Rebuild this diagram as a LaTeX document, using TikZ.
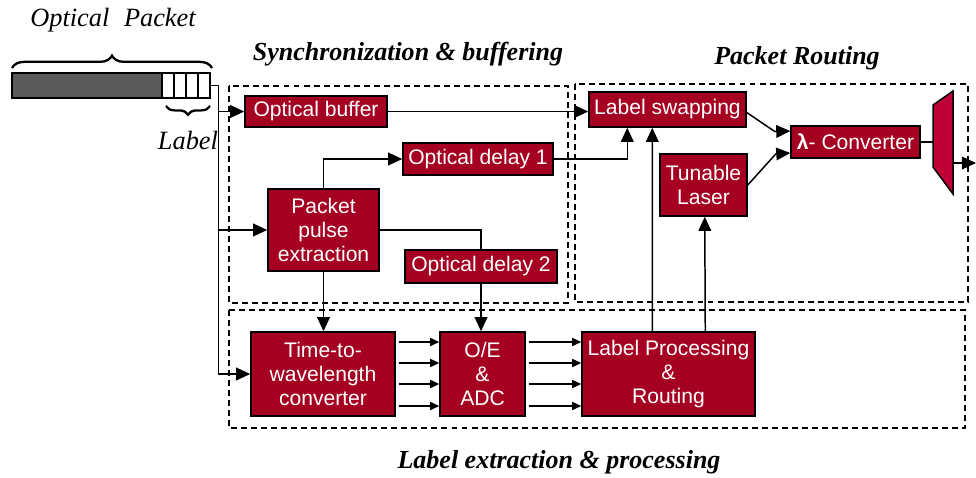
\documentclass[tikz,border=0pt]{standalone}
\usepackage{fontspec}
\setmainfont{Liberation Serif}
\newfontfamily\boxfont{Liberation Sans}
\usetikzlibrary{arrows.meta,calc,decorations.pathreplacing}
\definecolor{boxred}{HTML}{A50021}
\definecolor{muxred}{HTML}{BE0036}
\definecolor{pktgray}{HTML}{5A5A5A}
\begin{document}
\begin{tikzpicture}[
        x=0.02cm, y=-0.02cm,
        line width=0.85pt,
        block/.style={draw=black, fill=boxred, text=white, inner sep=0pt, align=center,
            font=\boxfont\fontsize{12}{13.6}\selectfont},
        cell/.style={draw=black, fill=white, minimum width=0.24cm, minimum height=0.5cm, inner sep=0pt},
        region/.style={dashed, dash pattern=on 3.4pt off 2.3pt},
        title/.style={font=\fontsize{14.8}{17}\selectfont\bfseries\itshape},
        arr/.style={-{Triangle[length=8pt,width=7.2pt]}},
        sarr/.style={-{Triangle[length=5.2pt,width=4.6pt]}},
        brc/.style={decorate, line width=1.3pt},
    ]
    \useasboundingbox (0,0) rectangle (976,477);

    % optical packet
    \node[draw=black, fill=pktgray, minimum width=3cm, minimum height=0.5cm, inner sep=0pt](pkt) at (87,85.5){};
    \foreach \i in {0,...,3}
        \node[cell](c\i) at (168+12*\i,85.5){};
    \draw[brc, decoration={brace, amplitude=7pt}] (12,68) -- (212,68);
    \node[font=\fontsize{15}{17}\selectfont\itshape](pktlabel) at (113,20){Optical\;\;Packet};
    \draw[brc, decoration={brace, amplitude=5pt, mirror}] (166,106) -- (210,106);
    \node[font=\fontsize{15}{17}\selectfont\itshape](lbl) at (188,140){Label};

    % regions
    \draw[region] (229,86) rectangle (568,303);
    \draw[region] (575,84) rectangle (968,302);
    \draw[region] (229,310) rectangle (965,428);
    \node[title](synctitle) at (408,54){Synchronization \& buffering};
    \node[title](routetitle) at (797,58){Packet Routing};
    \node[title](proctitle) at (559,462){Label extraction \& processing};

    % blocks
    \node[block, minimum width=2.84cm, minimum height=0.62cm](buffer) at (316,111.5){Optical buffer};
    \node[block, minimum width=3.14cm, minimum height=0.70cm](swap) at (667.5,109.5){Label swapping};
    \node[block, minimum width=3.00cm, minimum height=0.64cm](delay1) at (478,159){Optical delay 1};
    \node[block, minimum width=2.22cm, minimum height=1.64cm](pulse) at (323.5,230){Packet\\pulse\\extraction};
    \node[block, minimum width=3.04cm, minimum height=0.66cm](delay2) at (481,266.5){Optical delay 2};
    \node[block, minimum width=1.74cm, minimum height=1.24cm](laser) at (703.5,185){Tunable\\Laser};
    \node[block, minimum width=2.58cm, minimum height=0.64cm](conv) at (855.5,142){\textbf{λ}- Converter};
    \node[block, minimum width=2.88cm, minimum height=1.68cm](ttw) at (323,374){Time-to-\\wavelength\\converter};
    \node[block, minimum width=1.70cm, minimum height=1.68cm](oe) at (482.5,374){O/E\\\&\\ADC};
    \node[block, minimum width=3.46cm, minimum height=1.68cm](lpr) at (668.5,374){Label Processing\\\&\\Routing};

    % demultiplexer
    \draw[fill=muxred] (933,105) -- (953,91) -- (953,194) -- (933,167) -- cycle;
    \coordinate (muxin) at (933,142);
    \coordinate (muxout) at (953,163);
    \coordinate (out) at (976,163);

    % connections
    \draw (c3.east) -- ++(8,0) coordinate (tap);
    \draw[arr] (tap) |- (buffer.west);
    \draw[arr] (tap) |- (pulse.west);
    \draw[arr] (tap) |- (ttw.west);
    \draw[arr] (buffer.east) -- (buffer.east -| swap.west);
    \draw[arr] (pulse.north) |- (delay1.west);
    \draw[arr] (delay1.east) -| ($(swap.south west)+(39,0)$);
    \draw (pulse.east) -| (delay2.north);
    \draw[arr] (delay2.south) -- (delay2.south |- oe.north);
    \draw[arr] (pulse.south) -- (pulse.south |- ttw.north);
    \foreach \y in {-32,-11,10,32}{
        \draw[sarr] ($(ttw.east)+(3,\y)$) -- ($(oe.west)+(0,\y)$);
        \draw[sarr] ($(oe.east)+(3,\y)$) -- ($(lpr.west)+(0,\y)$);
    }
    \draw[arr] ($(lpr.north west)+(71,0)$) -- ($(swap.south west)+(64,0)$);
    \draw[arr] ($(lpr.north west)+(124,0)$) -- ($(laser.south west)+(45.5,0)$);
    \draw[arr] ($(swap.east)+(0,3)$) -- ++(28,19) -- ($(conv.west)+(0,-11)$);
    \draw[arr] (laser.east) -- ++(28,-31) -- ($(conv.west)+(0,11)$);
    \draw (conv.east) -- (muxin);
    \draw[arr] (muxout) -- (out);
\end{tikzpicture}
\end{document}
